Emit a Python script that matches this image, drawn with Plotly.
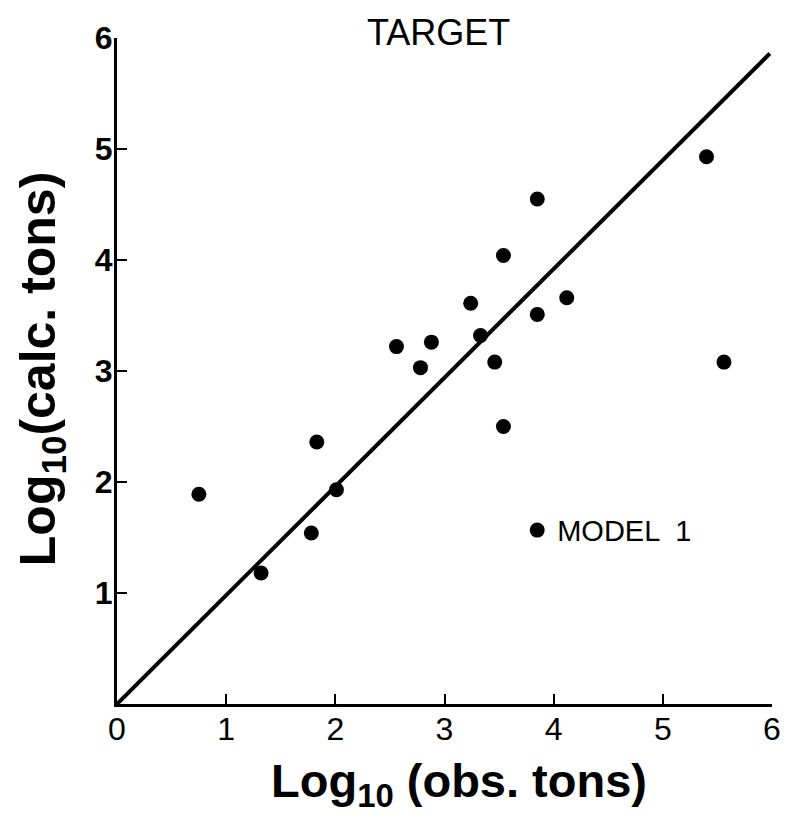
import plotly.graph_objects as go

obs_log = [0.75, 1.32, 1.83, 1.78, 2.01, 2.56, 2.78, 2.88, 3.24, 3.33,
           3.46, 3.54, 3.54, 3.85, 3.85, 4.12, 5.40, 5.56]
calc_log = [1.89, 1.18, 2.36, 1.54, 1.93, 3.22, 3.03, 3.26, 3.61, 3.32,
            3.08, 2.50, 4.04, 4.55, 3.51, 3.66, 4.93, 3.08]

line_x = [0, 5.98]
line_y = [0, 5.86]

x_tick_vals = [0, 1, 2, 3, 4, 5, 6]
x_tick_text = ["0", "1", "2", "3", "4", "5", "6"]
y_tick_vals = [1, 2, 3, 4, 5, 6]
y_tick_text = ["1", "2", "3", "4", "5", "6"]

series_name = "MODEL  1"
title_text = "TARGET"
x_title = "Log<sub>10</sub> (obs. tons)"
y_title = "Log<sub>10</sub>(calc. tons)"

FONT = "Liberation Sans, Arial, Helvetica, sans-serif"

# page body has an 8px default margin: compensate so the plot sits where it should
BODY = 8
PL, PR, PT, PB = 117, 778, 37, 704   # plot area in page pixels
PW, PH = PR - PL, PB - PT

fig = go.Figure()
fig.add_trace(go.Scatter(x=line_x, y=line_y, mode="lines",
                         line=dict(color="black", width=4),
                         showlegend=False, hoverinfo="skip"))
fig.add_trace(go.Scatter(x=obs_log, y=calc_log, mode="markers",
                         name=series_name,
                         marker=dict(color="black", size=15),
                         cliponaxis=False))

fig.update_layout(
    width=793 - BODY, height=824 - BODY,
    margin=dict(l=PL - BODY, r=793 - PR, t=PT - BODY, b=824 - PB),
    plot_bgcolor="white", paper_bgcolor="white",
    font=dict(family=FONT, color="black"),
    showlegend=True,
    legend=dict(x=0.611, y=(PB - 530) / PH, xanchor="left", yanchor="middle",
                bgcolor="rgba(0,0,0,0)", borderwidth=0,
                font=dict(size=29, family=FONT, color="black")),
    xaxis=dict(range=[0, 6], tickvals=x_tick_vals, ticktext=x_tick_text,
               showgrid=False, zeroline=False, showline=True,
               linecolor="black", linewidth=3,
               ticks="inside", ticklen=10, tickwidth=2, tickcolor="black",
               ticklabelstandoff=-5,
               tickfont=dict(size=32, family=FONT, color="black")),
    yaxis=dict(range=[0, 6], tickvals=y_tick_vals, ticktext=y_tick_text,
               showgrid=False, zeroline=False, showline=True,
               linecolor="black", linewidth=3,
               ticks="inside", ticklen=10, tickwidth=2, tickcolor="black",
               ticklabelstandoff=-5,
               tickfont=dict(size=32, family=FONT, color="black", weight="bold")),
    annotations=[
        dict(text=title_text, xref="paper", yref="paper",
             x=(441 - PL) / PW, y=1 + (PT - 31) / PH,
             xanchor="center", yanchor="middle", showarrow=False,
             font=dict(size=36, family=FONT, color="black")),
        dict(text="<b>" + x_title + "</b>", xref="paper", yref="paper",
             x=(462 - PL) / PW, y=-(784 - PB) / PH,
             xanchor="center", yanchor="middle", showarrow=False,
             font=dict(size=47, family=FONT, color="black")),
        dict(text="<b>" + y_title + "</b>", xref="paper", yref="paper",
             x=-(PL - 41) / PW, y=(PB - 368) / PH,
             xanchor="center", yanchor="middle", showarrow=False,
             textangle=-90,
             font=dict(size=50, family=FONT, color="black")),
    ],
)

fig.write_html("out.html")
